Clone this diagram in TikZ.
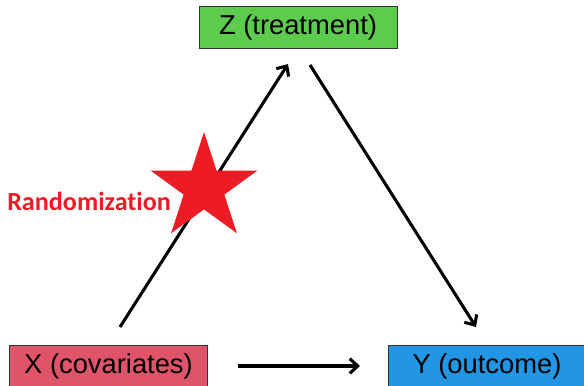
\documentclass[tikz,border=0pt]{standalone}
\usepackage{fontspec}
\setmainfont{Liberation Sans}
\newfontfamily\calfont[Ligatures=NoCommon]{Carlito}
\usetikzlibrary{arrows.meta, shapes.geometric, calc}

\definecolor{treatgreen}{RGB}{92,203,78}
\definecolor{covred}{RGB}{224,84,106}
\definecolor{outblue}{RGB}{34,150,228}
\definecolor{starred}{RGB}{237,28,36}

\begin{document}
\begin{tikzpicture}[
x=.75pt, y=-.75pt,
varbox/.style={draw=black!80, line width=.6pt, minimum width=148.5pt, minimum height=31pt, inner sep=0pt, font=\fontsize{20.5}{23}\selectfont},
link/.style={line width=2.3pt, -{Straight Barb[length=6pt, width=11pt, line width=2.3pt]}},
]
\useasboundingbox (0,0) rectangle (584,385);

%%%% VARIABLES

\node[varbox, fill=treatgreen] (Z) at (298,27.5) {Z (treatment)};
\node[varbox, fill=covred] (X) at (108.5,366) {X (covariates)};
\node[varbox, fill=outblue] (Y) at (487,366) {Y (outcome)};

%%%% ARROWS

\coordinate (xz1) at (120,327);
\coordinate (xz2) at (288,64);
\coordinate (zy1) at (310,65);
\coordinate (zy2) at (476,327);
\coordinate (xy1) at (238,366);
\coordinate (xy2) at (360,366);

\draw[link] (xz1)--(xz2);
\draw[link] (zy1)--(zy2);
\draw[link] (xy1)--(xy2);

%%%% RANDOMIZATION

\node[star, star points=5, star point ratio=2.618, minimum size=84pt, inner sep=0pt, fill=starred] (rstar) at (204,188) {};
\node[anchor=base west, inner sep=0pt, text=starred, font=\calfont\bfseries\fontsize{19.6}{22}\selectfont] (rlabel) at (7,210) {Randomization};

\end{tikzpicture}
\end{document}
